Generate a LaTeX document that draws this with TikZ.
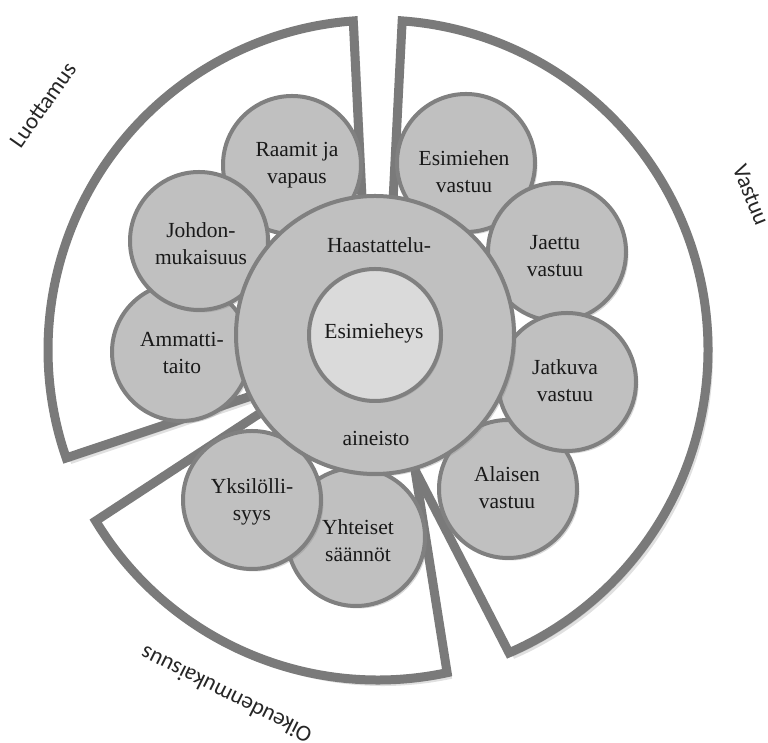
\documentclass[tikz,border=0pt]{standalone}
\usepackage{fontspec}
\setmainfont{Liberation Serif}
\newfontfamily\labelfont{Carlito}
\usetikzlibrary{shadows}
\definecolor{framegray}{RGB}{122,122,122}
\definecolor{circfill}{RGB}{192,192,192}
\definecolor{circline}{RGB}{128,128,128}
\definecolor{innerfill}{RGB}{218,218,218}
\definecolor{txt}{RGB}{25,25,25}
\newcommand\framelu[1]{\path[#1] (365,483) -- (353.26,722.07) arc[start angle=94.3, end angle=199.1, radius=330pt] -- (290,360) -- (375,408) -- cycle;}
\newcommand\frameva[1]{\path[#1] (390,483) -- (402.17,722.11) arc[start angle=85.8, end angle=-66.6, radius=330pt] -- (415,273) -- (375,408) -- cycle;}
\newcommand\frameoi[1]{\path[#1] (300,356) -- (95.68,222.05) arc[start angle=211.2, end angle=282.1, radius=330pt] -- (415,273) -- (375,408) -- cycle;}
\begin{document}
\begin{tikzpicture}[x=1pt,y=1pt,
  frame/.style={draw=framegray, line width=9pt, fill=white, line join=miter},
  fshadow/.style={fill=black, opacity=0.12},
  bubble/.style={circle, draw=circline, line width=4pt, fill=circfill, minimum size=138pt, inner sep=0pt,
    drop shadow={shadow xshift=2.5pt, shadow yshift=-2.5pt, opacity=0.3}},
  btext/.style={font=\fontsize{21.5}{27}\selectfont, text=txt, align=center},
  slabel/.style={font=\labelfont\fontsize{23}{27}\selectfont, text=black!85}
]
\useasboundingbox (0,0) rectangle (768,743);
% frame shadows
\begin{scope}[shift={(3,-4)}]
  \framelu{fshadow}\frameva{fshadow}\frameoi{fshadow}
\end{scope}
\begin{scope}[shift={(5,-6)}]
  \framelu{fshadow}\frameva{fshadow}\frameoi{fshadow}
\end{scope}
% frames
\framelu{frame}
\frameva{frame}
\frameoi{frame}
% frame labels
\node[slabel, rotate=55] (l-luottamus) at (43,638) {Luottamus};
\node[slabel, rotate=-68] (l-vastuu) at (751,548) {Vastuu};
\node[slabel, rotate=153.4] (l-oikeus) at (226,48) {Oikeudenmukaisuus};
% bubbles (back to front)
\node[bubble] (raamit) at (292,578) {};
\node[bubble] (ammatti) at (181,391) {};
\node[bubble] (johdon) at (199,502) {};
\node[bubble] (esimiehen) at (466,580) {};
\node[bubble] (jaettu) at (557,491) {};
\node[bubble] (alaisen) at (508,254) {};
\node[bubble] (jatkuva) at (567,361) {};
\node[bubble] (yhteiset) at (356,206) {};
\node[bubble] (yksilo) at (252,243) {};
% centre
\node[bubble, minimum size=278pt] (haast) at (375,408) {};
\node[circle, draw=circline, line width=4pt, fill=innerfill, minimum size=132pt, inner sep=0pt,
  drop shadow={shadow xshift=2pt, shadow yshift=-2pt, opacity=0.25}] (esimieheys) at (375,408) {};
% texts
\node[btext] (t-raamit) at (297,578) {Raamit ja\\vapaus};
\node[btext] (t-johdon) at (201,499) {Johdon-\\mukaisuus};
\node[btext] (t-ammatti) at (182,390) {Ammatti-\\taito};
\node[btext] (t-esimiehen) at (464,571) {Esimiehen\\vastuu};
\node[btext] (t-jaettu) at (555,487) {Jaettu\\vastuu};
\node[btext] (t-jatkuva) at (565,362) {Jatkuva\\vastuu};
\node[btext] (t-alaisen) at (507,255) {Alaisen\\vastuu};
\node[btext] (t-yhteiset) at (358,202) {Yhteiset\\säännöt};
\node[btext] (t-yksilo) at (252,241) {Yksilölli-\\syys};
\node[btext] (t-haast) at (379,498) {Haastattelu-};
\node[btext] (t-aineisto) at (376,305) {aineisto};
\node[btext] (t-esimieheys) at (374,410) {Esimieheys};
\end{tikzpicture}
\end{document}
